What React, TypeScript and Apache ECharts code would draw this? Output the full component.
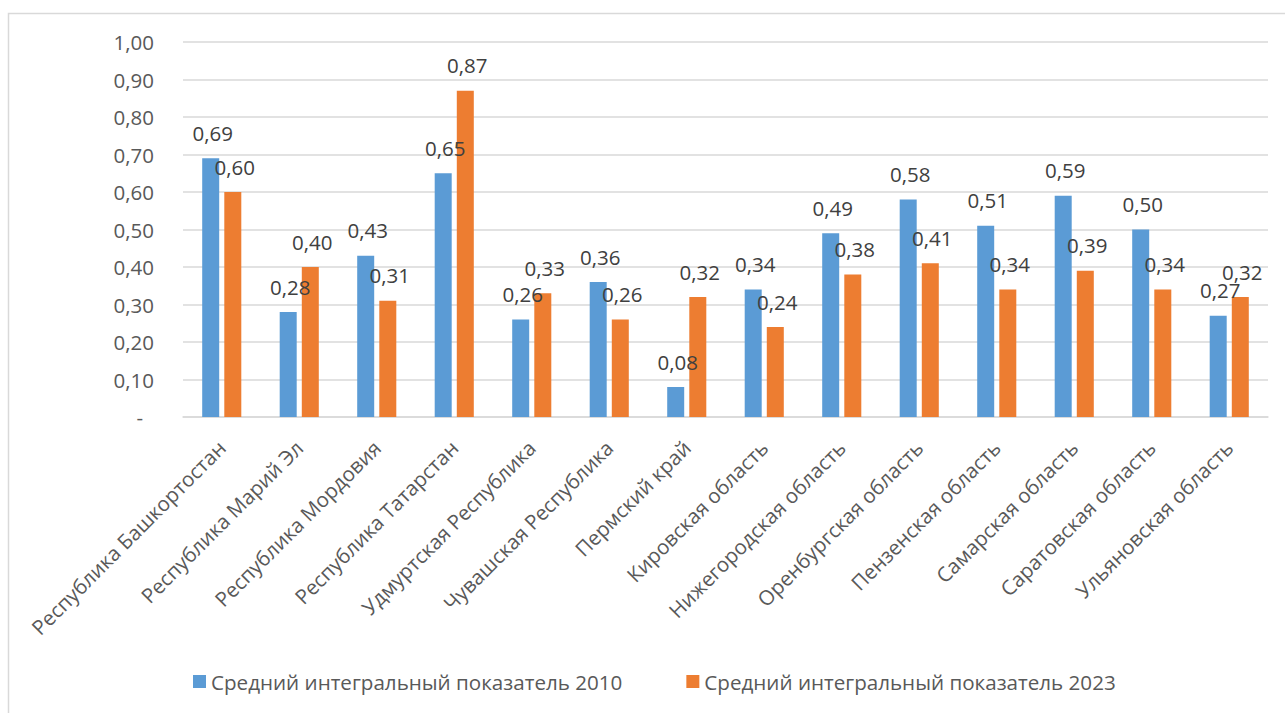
import React, { useEffect, useRef } from "react";
import * as echarts from "echarts";

const regions = [
  "Республика Башкортостан",
  "Республика Марий Эл",
  "Республика Мордовия",
  "Республика Татарстан",
  "Удмуртская Республика",
  "Чувашская Республика",
  "Пермский край",
  "Кировская область",
  "Нижегородская область",
  "Оренбургская область",
  "Пензенская область",
  "Самарская область",
  "Саратовская область",
  "Ульяновская область",
];

const index2010 = [0.69, 0.28, 0.43, 0.65, 0.26, 0.36, 0.08, 0.34, 0.49, 0.58, 0.51, 0.59, 0.5, 0.27];
const index2023 = [0.6, 0.4, 0.31, 0.87, 0.33, 0.26, 0.32, 0.24, 0.38, 0.41, 0.34, 0.39, 0.34, 0.32];

const seriesNames = ["Средний интегральный показатель 2010", "Средний интегральный показатель 2023"];

const FONT = "'Open Sans', 'Noto Sans', sans-serif";
const fmt = (v: number) => v.toFixed(2).replace(".", ",");

export default function App() {
  const ref = useRef<HTMLDivElement>(null);

  useEffect(() => {
    document.body.style.overflow = "hidden";
    const chart = echarts.init(ref.current!, null, { renderer: "svg" });
    const labelStyle = {
      show: true,
      position: "top" as const,
      distance: 15,
      offset: [2, 0],
      fontSize: 20.5,
      fontFamily: FONT,
      color: "#404040",
      formatter: (p: any) => fmt(p.value),
    };
    chart.setOption({
      animation: false,
      backgroundColor: "#ffffff",
      textStyle: { fontFamily: FONT },
      graphic: [
        {
          type: "rect",
          shape: { x: 8.5, y: 13.5, width: 1400, height: 800 },
          style: { fill: "none", stroke: "#d9d9d9", lineWidth: 1.5 },
          silent: true,
        },
      ],
      grid: { left: 183, top: 42, width: 1085, height: 375, containLabel: false },
      legend: {
        left: 193,
        top: 671,
        padding: 0,
        icon: "rect",
        itemWidth: 13,
        itemHeight: 13,
        itemGap: 64,
        textStyle: { fontSize: 20.6, color: "#595959", fontFamily: FONT },
        data: seriesNames,
      },
      xAxis: {
        type: "category",
        data: regions,
        axisTick: { show: false },
        axisLine: { lineStyle: { color: "#d9d9d9", width: 1.5 } },
        axisLabel: {
          interval: 0,
          rotate: 45,
          margin: 27,
          fontSize: 20.5,
          color: "#595959",
          fontFamily: FONT,
        },
      },
      yAxis: {
        type: "value",
        min: 0,
        max: 1,
        interval: 0.1,
        axisLine: { show: false },
        axisTick: { show: false },
        splitLine: { lineStyle: { color: "#d9d9d9", width: 1.5 } },
        axisLabel: {
          margin: 29,
          fontSize: 20.5,
          color: "#595959",
          fontFamily: FONT,
          formatter: (v: number) => (v === 0 ? "{d|-}" : fmt(v)),
          rich: { d: { fontSize: 20.5, color: "#595959", padding: [0, 11, 0, 0], fontFamily: FONT } },
        },
      },
      series: [
        {
          name: seriesNames[0],
          type: "bar",
          data: index2010,
          barWidth: 17,
          barGap: "30%",
          itemStyle: { color: "#5B9BD5" },
          label: labelStyle,
        },
        {
          name: seriesNames[1],
          type: "bar",
          data: index2023,
          barWidth: 17,
          itemStyle: { color: "#ED7D31" },
          label: labelStyle,
        },
      ],
    });
    return () => chart.dispose();
  }, []);

  return (
    <div
      ref={ref}
      style={{ position: "fixed", left: 0, top: 0, width: 1285, height: 713 }}
    />
  );
}
